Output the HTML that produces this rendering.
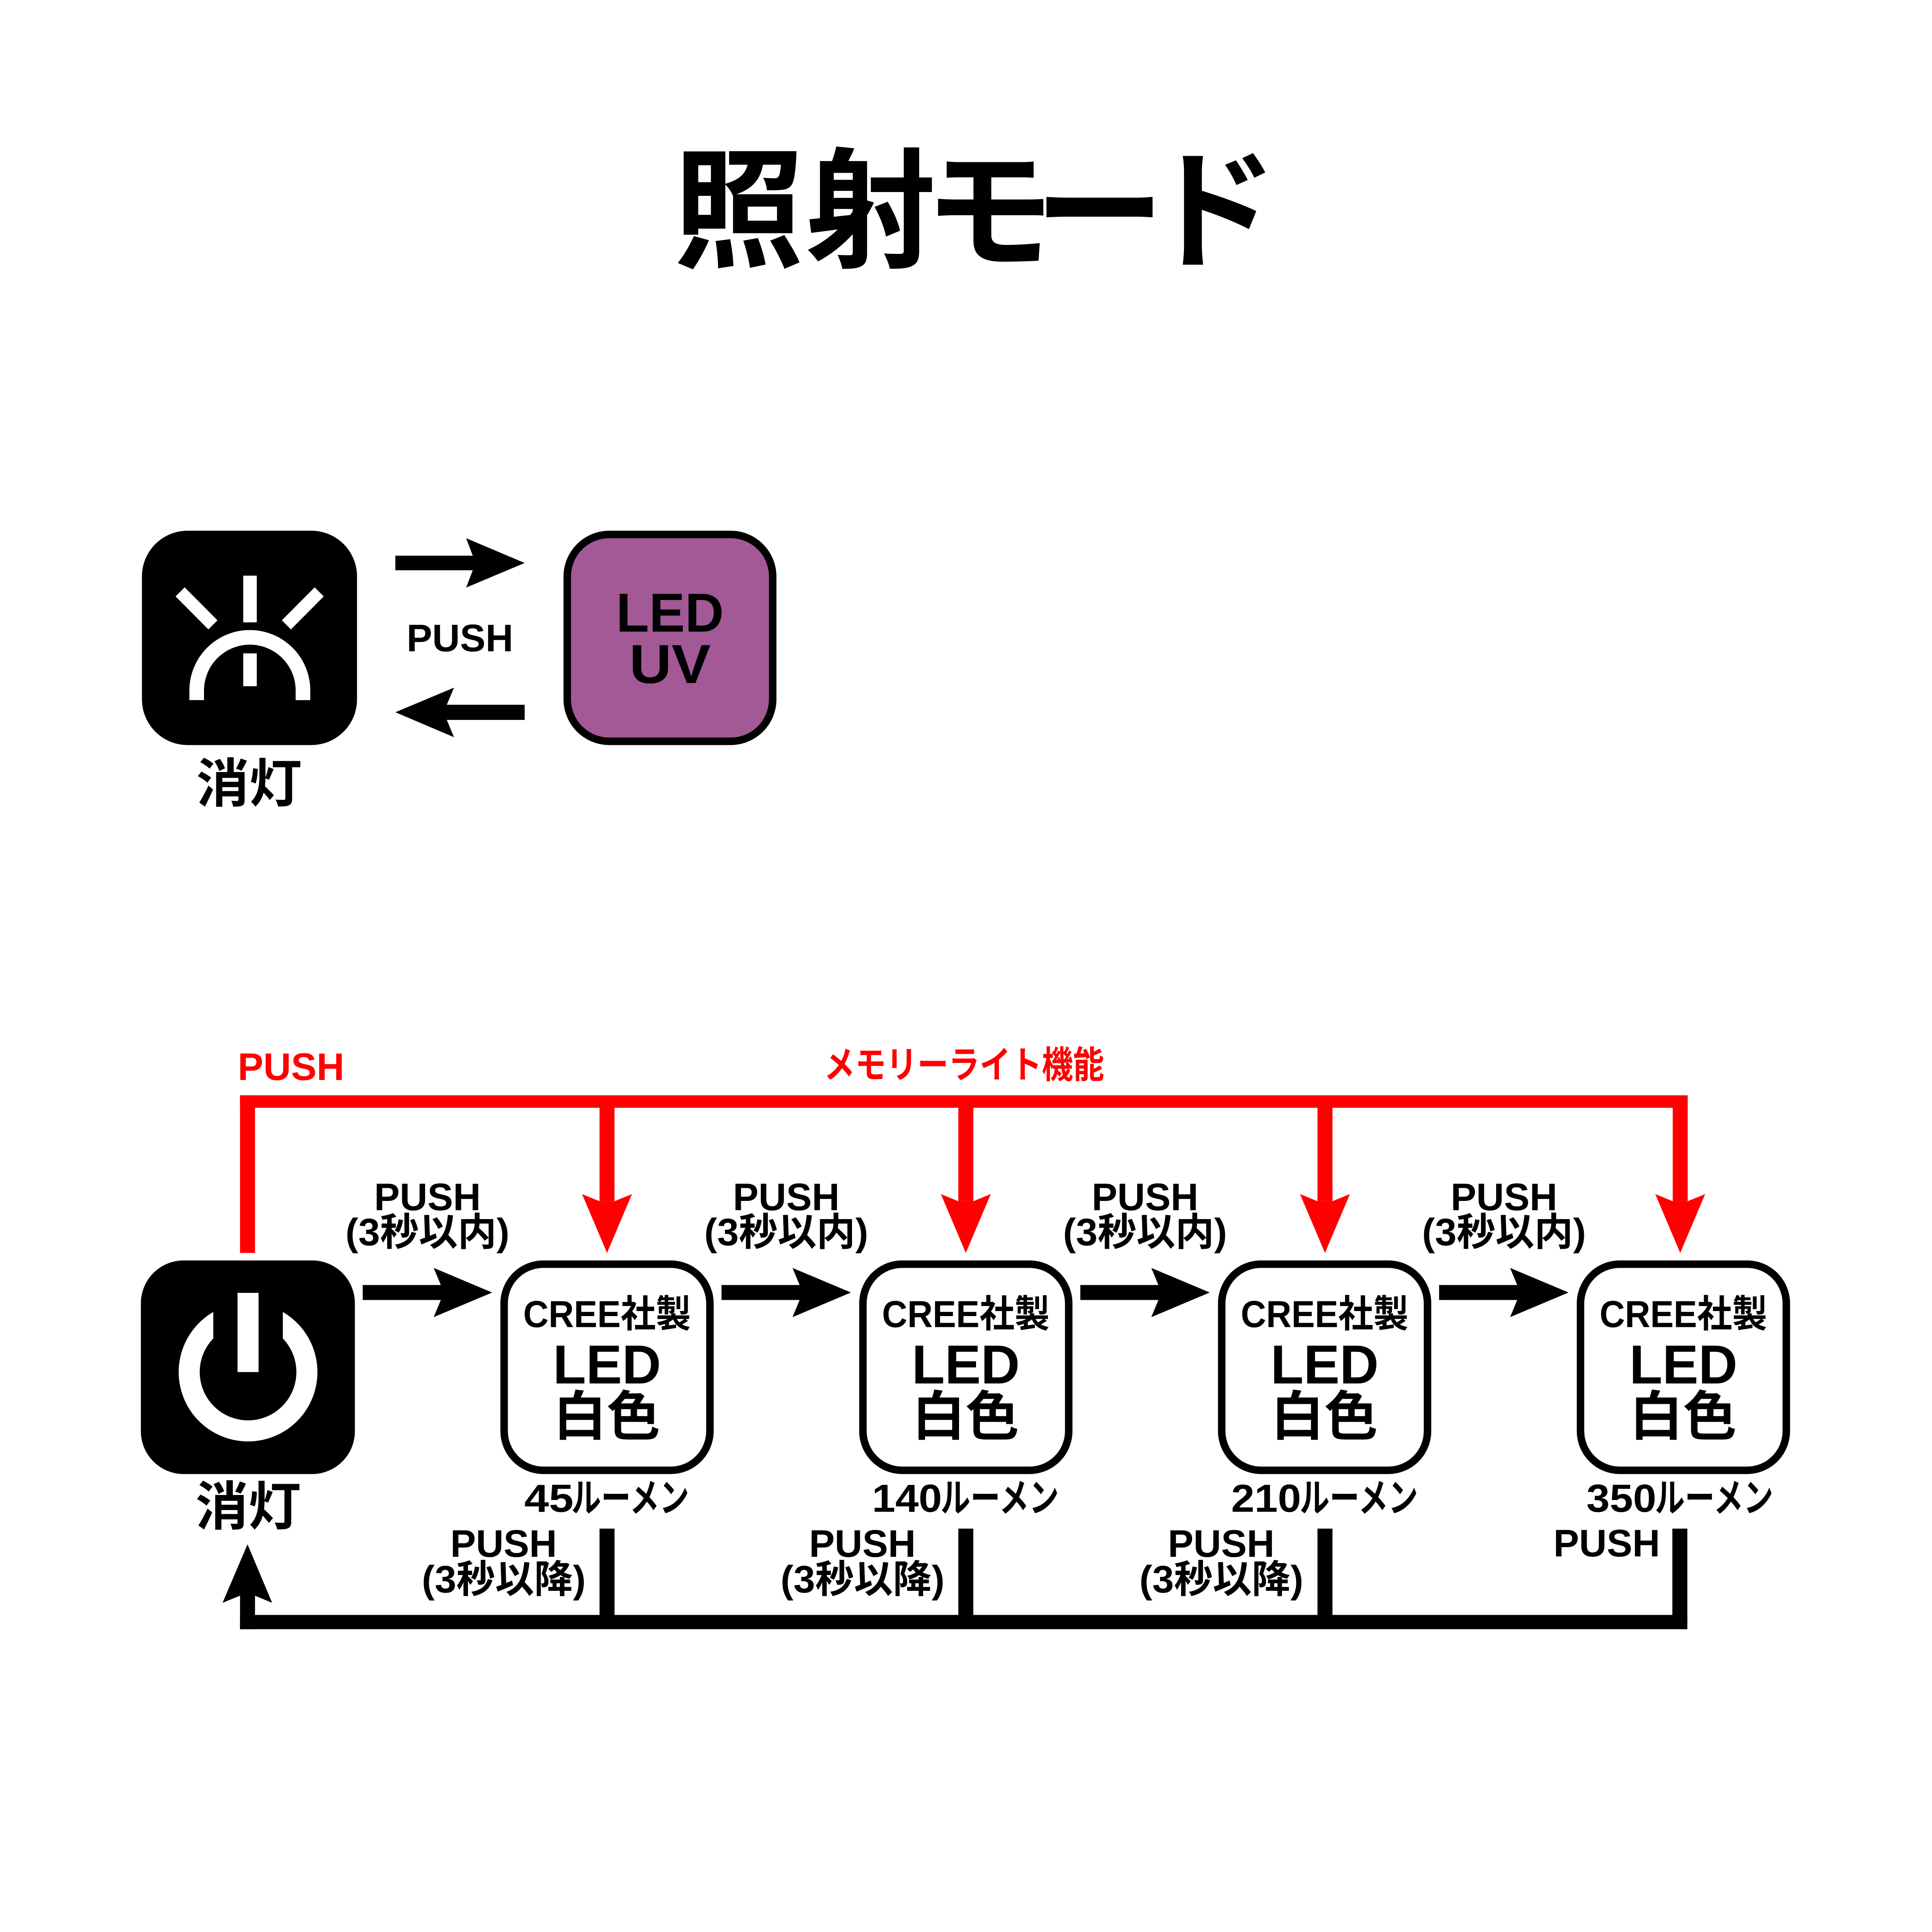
<!DOCTYPE html>
<html><head><meta charset="utf-8">
<style>
html,body{margin:0;padding:0;background:#fff;width:100%;height:100%;overflow:hidden;}
svg{display:block;width:100vw;height:100vh;}
text{font-family:"Liberation Sans","Noto Sans CJK JP",sans-serif;font-weight:bold;}
</style></head>
<body>
<svg xmlns="http://www.w3.org/2000/svg" viewBox="0 0 5417 5417" preserveAspectRatio="xMidYMid meet">
<rect width="5417" height="5417" fill="#fff"/>

<!-- Title -->
<g font-size="365" text-anchor="middle" fill="#000">
<text x="2071" y="721" style="font-family:'Noto Sans CJK JP',sans-serif">照</text>
<text x="2441" y="721" style="font-family:'Noto Sans CJK JP',sans-serif">射</text>
<text x="2774" y="721" style="font-family:'Noto Sans CJK JP',sans-serif">モ</text>
<text x="3083" y="721" style="font-family:'Noto Sans CJK JP',sans-serif">ー</text>
<text x="3399" y="721" style="font-family:'Noto Sans CJK JP',sans-serif">ド</text>
</g>

<!-- Top section: off icon -->
<rect x="398" y="1488" width="603" height="601" rx="128" fill="#000"/>
<rect x="682" y="1614" width="38" height="131" fill="#fff"/>
<rect x="682" y="1832" width="38" height="92" fill="#fff"/>
<line x1="505" y1="1659.5" x2="597" y2="1752" stroke="#fff" stroke-width="36"/>
<line x1="895" y1="1659.5" x2="803" y2="1752" stroke="#fff" stroke-width="36"/>
<path d="M551.5 1963 V1936 A149 149 0 0 1 849.5 1936 V1963" fill="none" stroke="#fff" stroke-width="41"/>
<text x="698.5" y="2249" font-size="148" text-anchor="middle">消灯</text>

<!-- top arrows -->
<path d="M1108.5 1558 H1325.5 L1307 1509 L1471 1578.5 L1307 1647.5 L1325.5 1599 H1108.5 Z" fill="#000"/>
<path d="M1471 1976 H1252.7 L1273 1928 L1108.5 1997 L1273 2067 L1252.7 2018.5 H1471 Z" fill="#000"/>
<text x="1289.5" y="1826" font-size="108" text-anchor="middle" textLength="299" lengthAdjust="spacingAndGlyphs">PUSH</text>

<!-- purple UV box -->
<rect x="1590.5" y="1498.5" width="576" height="580" rx="118" fill="#a35995" stroke="#000" stroke-width="21"/>
<text x="1878.5" y="1771" font-size="154" text-anchor="middle" textLength="302" lengthAdjust="spacingAndGlyphs">LED</text>
<text x="1878.5" y="1915" font-size="154" text-anchor="middle" textLength="228" lengthAdjust="spacingAndGlyphs">UV</text>

<!-- Bottom section: red memory lines -->
<g fill="#ff0000">
<rect x="673" y="3071" width="4059" height="35"/>
<rect x="673" y="3071" width="42" height="442"/>
<rect x="1681" y="3090" width="42" height="278"/>
<polygon points="1681,3368 1632,3348 1702,3513 1772,3348 1723,3368"/>
<rect x="2687" y="3090" width="42" height="278"/>
<polygon points="2687,3368 2638,3348 2708,3513 2778,3348 2729,3368"/>
<rect x="3694" y="3090" width="42" height="278"/>
<polygon points="3694,3368 3645,3348 3715,3513 3785,3348 3736,3368"/>
<rect x="4690" y="3090" width="42" height="278"/>
<polygon points="4690,3368 4641,3348 4711,3513 4781,3348 4732,3368"/>
</g>
<text x="816" y="3028" font-size="108" fill="#ff0000" text-anchor="middle" textLength="299" lengthAdjust="spacingAndGlyphs">PUSH</text>
<text x="2703" y="3022" font-size="104" fill="#ff0000" text-anchor="middle" textLength="786" lengthAdjust="spacingAndGlyphs">メモリーライト機能</text>

<!-- power box -->
<rect x="395" y="3534" width="600" height="599" rx="120" fill="#000"/>
<circle cx="695.5" cy="3847" r="165" fill="none" stroke="#fff" stroke-width="59"/>
<rect x="598" y="3600" width="195" height="170" fill="#000"/>
<rect x="666" y="3625" width="59" height="222" fill="#fff"/>
<text x="696" y="4276" font-size="148" text-anchor="middle">消灯</text>

<!-- black right arrows -->
<g fill="#000">
<path d="M1017 3603 H1236 L1216 3555 L1380 3624 L1216 3693 L1236 3645 H1017 Z"/>
<path d="M2023 3603 H2242 L2222 3555 L2386 3624 L2222 3693 L2242 3645 H2023 Z"/>
<path d="M3029 3603 H3248 L3228 3555 L3392 3624 L3228 3693 L3248 3645 H3029 Z"/>
<path d="M4035 3603 H4254 L4234 3555 L4398 3624 L4234 3693 L4254 3645 H4035 Z"/>
</g>

<!-- top labels -->
<g font-size="108" text-anchor="middle">
<text x="1198.5" y="3393" textLength="299" lengthAdjust="spacingAndGlyphs">PUSH</text>
<text x="1198.5" y="3492" textLength="460" lengthAdjust="spacingAndGlyphs">(3秒以内)</text>
<text x="2204.5" y="3393" textLength="299" lengthAdjust="spacingAndGlyphs">PUSH</text>
<text x="2204.5" y="3492" textLength="460" lengthAdjust="spacingAndGlyphs">(3秒以内)</text>
<text x="3210.5" y="3393" textLength="299" lengthAdjust="spacingAndGlyphs">PUSH</text>
<text x="3210.5" y="3492" textLength="460" lengthAdjust="spacingAndGlyphs">(3秒以内)</text>
<text x="4217" y="3393" textLength="299" lengthAdjust="spacingAndGlyphs">PUSH</text>
<text x="4217" y="3492" textLength="460" lengthAdjust="spacingAndGlyphs">(3秒以内)</text>
</g>

<!-- LED boxes -->
<g fill="#fff" stroke="#000" stroke-width="21">
<rect x="1413.5" y="3544.5" width="577" height="578" rx="110"/>
<rect x="2419.5" y="3544.5" width="577" height="578" rx="110"/>
<rect x="3425.5" y="3544.5" width="577" height="578" rx="110"/>
<rect x="4431.5" y="3544.5" width="577" height="578" rx="110"/>
</g>
<g text-anchor="middle">
<text x="1702" y="3721" font-size="106" textLength="470" lengthAdjust="spacingAndGlyphs">CREE社製</text>
<text x="1702" y="3879" font-size="154" textLength="303" lengthAdjust="spacingAndGlyphs">LED</text>
<text x="1701" y="4024" font-size="150">白色</text>
<text x="2708" y="3721" font-size="106" textLength="470" lengthAdjust="spacingAndGlyphs">CREE社製</text>
<text x="2708" y="3879" font-size="154" textLength="303" lengthAdjust="spacingAndGlyphs">LED</text>
<text x="2707" y="4024" font-size="150">白色</text>
<text x="3714" y="3721" font-size="106" textLength="470" lengthAdjust="spacingAndGlyphs">CREE社製</text>
<text x="3714" y="3879" font-size="154" textLength="303" lengthAdjust="spacingAndGlyphs">LED</text>
<text x="3713" y="4024" font-size="150">白色</text>
<text x="4720" y="3721" font-size="106" textLength="470" lengthAdjust="spacingAndGlyphs">CREE社製</text>
<text x="4720" y="3879" font-size="154" textLength="303" lengthAdjust="spacingAndGlyphs">LED</text>
<text x="4719" y="4024" font-size="150">白色</text>
</g>

<!-- lumen labels (digits and kana sized separately) -->
<g font-size="110" text-anchor="start">
<text x="1470" y="4239" textLength="138" lengthAdjust="spacingAndGlyphs">45</text>
<text x="1602" y="4239" textLength="330" lengthAdjust="spacingAndGlyphs">ルーメン</text>
<text x="2445" y="4239" textLength="196" lengthAdjust="spacingAndGlyphs">140</text>
<text x="2637" y="4239" textLength="332" lengthAdjust="spacingAndGlyphs">ルーメン</text>
<text x="3452" y="4239" textLength="196" lengthAdjust="spacingAndGlyphs">210</text>
<text x="3644" y="4239" textLength="332" lengthAdjust="spacingAndGlyphs">ルーメン</text>
<text x="4448" y="4239" textLength="196" lengthAdjust="spacingAndGlyphs">350</text>
<text x="4640" y="4239" textLength="332" lengthAdjust="spacingAndGlyphs">ルーメン</text>
</g>

<!-- bottom return connectors -->
<g fill="#000">
<rect x="1681" y="4286" width="42" height="264"/>
<rect x="2687" y="4286" width="42" height="264"/>
<rect x="3694" y="4286" width="42" height="264"/>
<rect x="4689" y="4286" width="42" height="264"/>
<rect x="673" y="4528" width="4058" height="40"/>
<rect x="673" y="4470" width="42" height="98"/>
<polygon points="673,4474 624,4494 694,4330 763,4494 715,4474"/>
</g>

<!-- bottom labels -->
<g font-size="108" text-anchor="middle">
<text x="1412" y="4365" textLength="299" lengthAdjust="spacingAndGlyphs">PUSH</text>
<text x="1412.5" y="4465" textLength="460" lengthAdjust="spacingAndGlyphs">(3秒以降)</text>
<text x="2418" y="4365" textLength="299" lengthAdjust="spacingAndGlyphs">PUSH</text>
<text x="2418.5" y="4465" textLength="460" lengthAdjust="spacingAndGlyphs">(3秒以降)</text>
<text x="3424" y="4365" textLength="299" lengthAdjust="spacingAndGlyphs">PUSH</text>
<text x="3424.5" y="4465" textLength="460" lengthAdjust="spacingAndGlyphs">(3秒以降)</text>
<text x="4505" y="4364" textLength="299" lengthAdjust="spacingAndGlyphs">PUSH</text>
</g>
</svg>
</body></html>
